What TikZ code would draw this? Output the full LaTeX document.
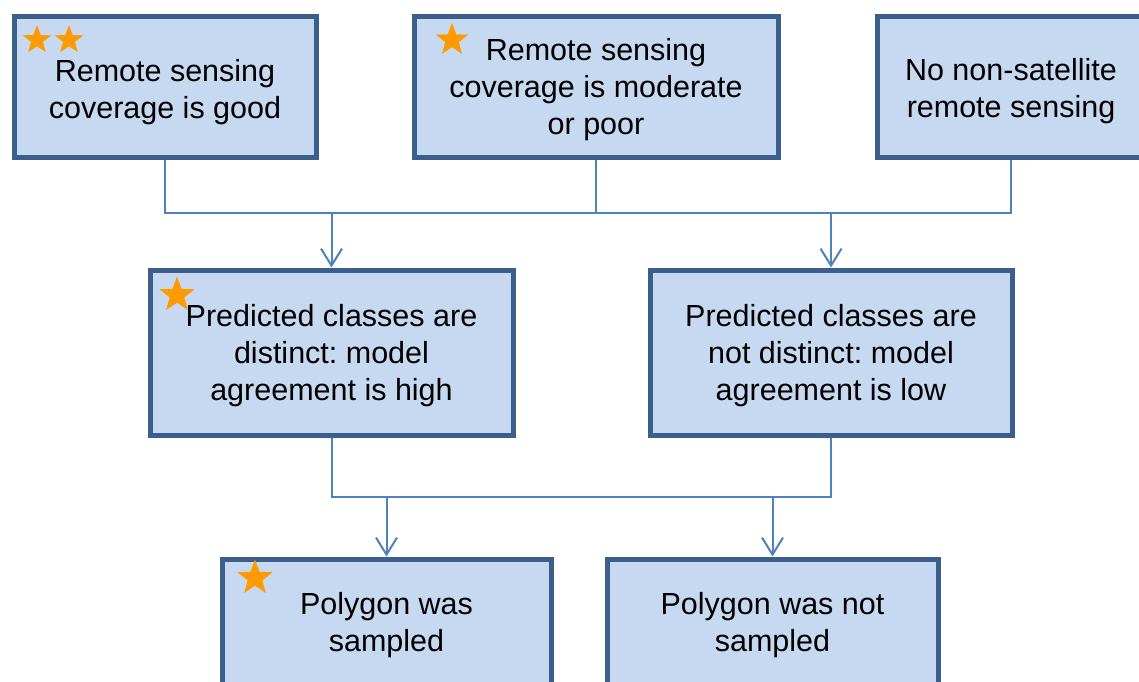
\documentclass[tikz,border=0pt]{standalone}
\usepackage{fontspec}
\setmainfont{Liberation Sans}
\usetikzlibrary{arrows.meta,shapes.geometric}
\frenchspacing
\definecolor{boxfill}{HTML}{C6D9F1}
\definecolor{boxedge}{HTML}{3B5E8C}
\definecolor{linkcol}{HTML}{4F81BD}
\definecolor{starcol}{HTML}{FF9A00}
% centred lines of text, drawn lower by #1 without changing the box size
\newcommand{\dropText}[2]{\raisebox{-#1}[\height][\depth]{\begin{tabular}{@{}c@{}}#2\end{tabular}}}
\tikzset{
  box/.style={draw=boxedge, line width=5pt, fill=boxfill, rectangle,
    align=center, inner sep=0pt, font=\fontsize{30.5}{37}\selectfont},
  conn/.style={draw=linkcol, line width=2pt},
  arr/.style={conn, -{Straight Barb[length=17pt,width=21pt,line width=2pt]}},
  mark star/.style={star, star points=5, star point ratio=2.4, fill=starcol,
    draw=none, inner sep=0pt, minimum size=#1}
}
\begin{document}
\begin{tikzpicture}[x=1pt,y=-1pt]
\useasboundingbox (0,0) rectangle (1139,681);
\clip (0,0) rectangle (1139,681);
\fill[white] (0,0) rectangle (1139,681);

% top row
\node[box, minimum width=302, minimum height=141] (b1) at (165,86.5)
  {\dropText{6pt}{Remote sensing\\coverage is good}};
\node[box, minimum width=364, minimum height=141] (b2) at (596,86.5)
  {\dropText{3.5pt}{Remote sensing\\coverage is moderate\\or poor}};
\node[box, minimum width=268, minimum height=141] (b3) at (1011,86.5)
  {\dropText{5.5pt}{No non-satellite\\remote sensing}};

% middle row
\node[box, minimum width=363, minimum height=165] (b4) at (331.5,352.5)
  {\dropText{3.5pt}{Predicted classes are\\distinct: model\\agreement is high}};
\node[box, minimum width=362, minimum height=165] (b5) at (831,352.5)
  {\dropText{3.5pt}{Predicted classes are\\not distinct: model\\agreement is low}};

% bottom row
\node[box, minimum width=329, minimum height=131] (b6) at (386.5,624.5)
  {\dropText{1pt}{Polygon was\\sampled}};
\node[box, minimum width=331, minimum height=131] (b7) at (772.5,624.5)
  {\dropText{1pt}{Polygon was not\\sampled}};

% stars
\node[mark star=30] (s1a) at (37,40) {};
\node[mark star=30] (s1b) at (69,40) {};
\node[mark star=34] (s2) at (452,40) {};
\node[mark star=37] (s4) at (177,295) {};
\node[mark star=37] (s6) at (255,578) {};

% first level connectors
\coordinate (busA) at (0,213);
\draw[conn] (b1.south) -- (b1.south |- busA) -- (b3.south |- busA) -- (b3.south);
\draw[conn] (b2.south) -- (b2.south |- busA);
\draw[arr] (b4.north |- busA) -- (b4.north);
\draw[arr] (b5.north |- busA) -- (b5.north);

% second level connectors
\coordinate (busB) at (0,497);
\draw[conn] (b4.south) -- (b4.south |- busB) -- (b5.south |- busB) -- (b5.south);
\draw[arr] (b6.north |- busB) -- (b6.north);
\draw[arr] (b7.north |- busB) -- (b7.north);
\end{tikzpicture}
\end{document}
